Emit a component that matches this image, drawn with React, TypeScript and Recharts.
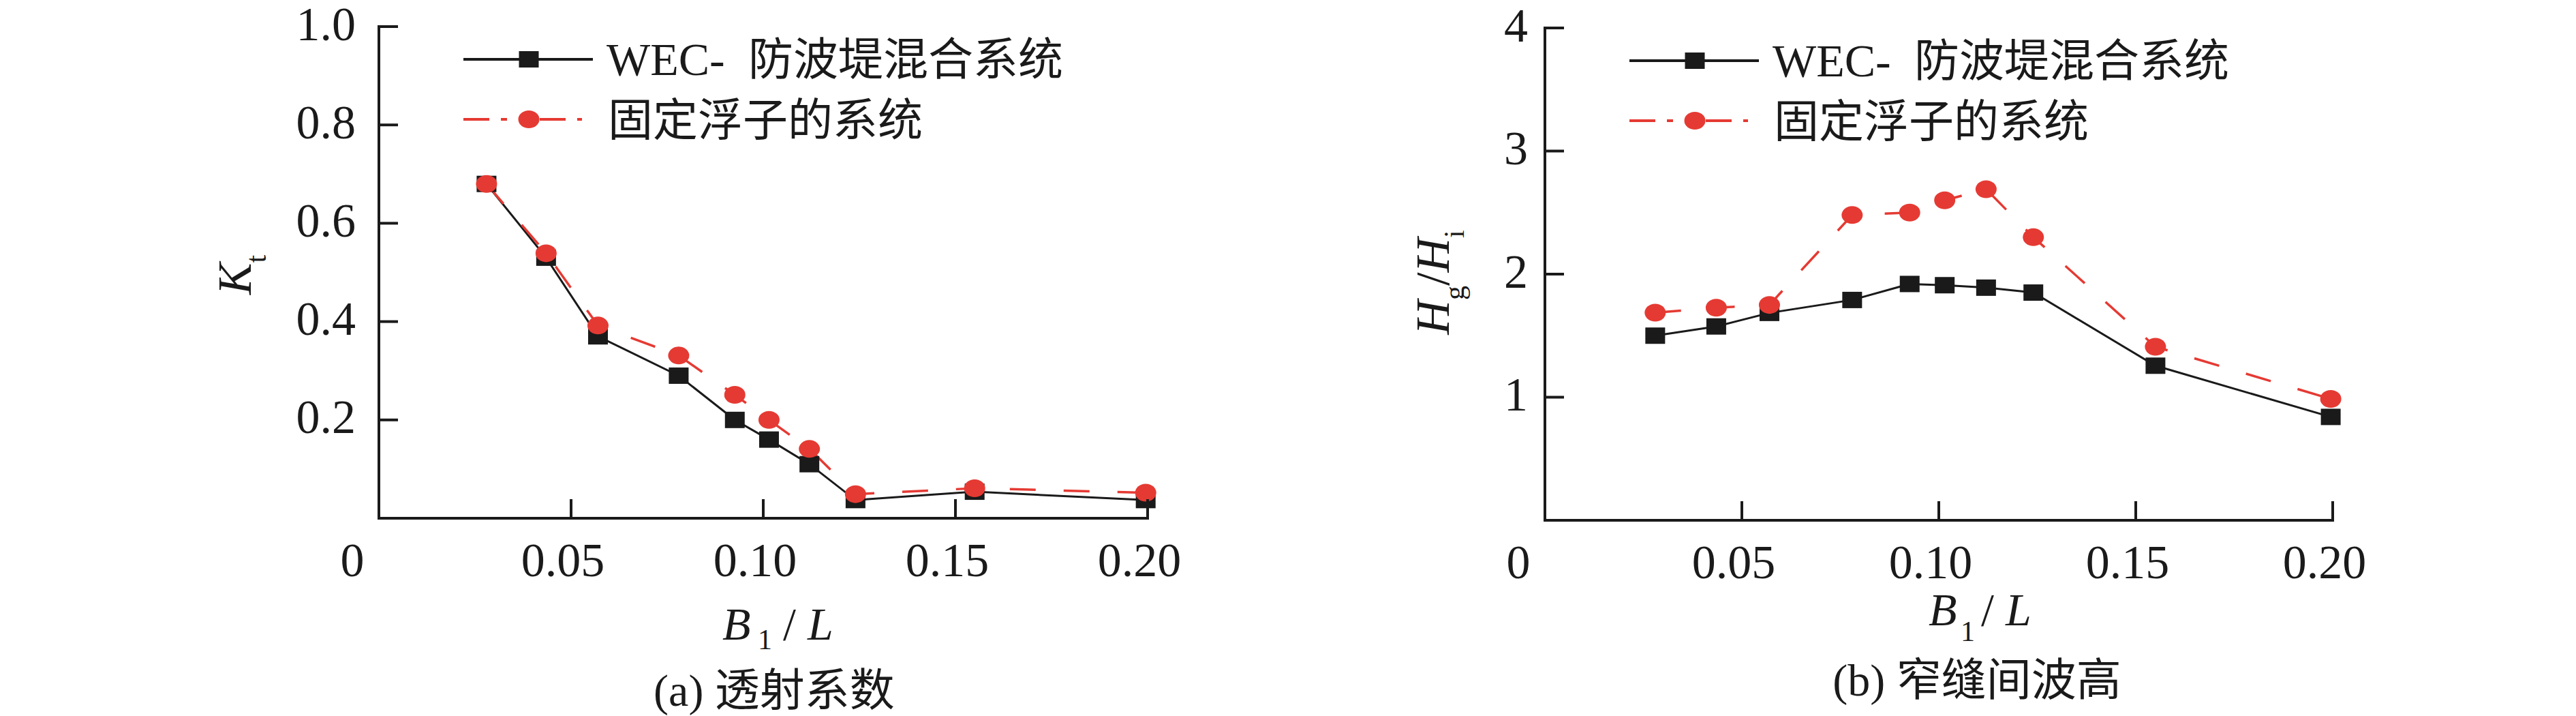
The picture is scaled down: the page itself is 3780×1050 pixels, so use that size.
import { LineChart, Line, XAxis, YAxis, Legend } from 'recharts'

// B1/L sample points shared by both panels
const B1L = [0.028, 0.0435, 0.057, 0.078, 0.0926, 0.1015, 0.112, 0.124, 0.155, 0.1995]

// (a) transmission coefficient Kt
const KT_WEC = [0.68, 0.53, 0.37, 0.29, 0.2, 0.16, 0.11, 0.037, 0.054, 0.037]
const KT_FIXED = [0.68, 0.539, 0.392, 0.331, 0.251, 0.2, 0.141, 0.049, 0.061, 0.052]

// (b) wave height in the gap Hg/Hi
const HG_WEC = [1.5, 1.575, 1.685, 1.79, 1.92, 1.91, 1.89, 1.85, 1.256, 0.84]
const HG_FIXED = [1.687, 1.727, 1.75, 2.48, 2.5, 2.6, 2.69, 2.3, 1.41, 0.986]

const X_TICKS = [0, 0.05, 0.1, 0.15, 0.2]
const KT_TICKS = [0.2, 0.4, 0.6, 0.8, 1.0]
const HG_TICKS = [1, 2, 3, 4]

const SERIES_NAMES = ['WEC- ', '防波堤混合系统', '固定浮子的系统']

const INK = '#1a1a1a'
const RED = '#e53a33'
const FONT = '"Liberation Serif", "Times New Roman", "Noto Sans CJK SC", serif'
const TICK_FS = 70

const build = (a: number[], b: number[]) =>
  B1L.map((x, i) => ({ x, wec: a[i], fixed: b[i] }))

const Square = (p: any) => {
  if (p.cx == null || p.cy == null) return null
  return <rect key={p.key} x={p.cx - 14.5} y={p.cy - 12} width={29} height={24} fill={INK} />
}

const RedDot = (p: any) => {
  if (p.cx == null || p.cy == null) return null
  return <ellipse key={p.key} cx={p.cx} cy={p.cy} rx={15.5} ry={13} fill={RED} />
}

const xFmt = (v: number) => (v === 0 ? '0' : v.toFixed(2))

const XTick = (p: any) => {
  const v = p.payload.value
  const x = p.payload.coordinate ?? p.x
  return (
    <g>
      {v > 0 && <line x1={x} x2={x} y1={p.y} y2={p.y - 28} stroke={INK} strokeWidth={4} />}
      <text
        x={x + (v === 0 ? -39 : -12)}
        y={p.y + 85}
        textAnchor="middle"
        fontFamily={FONT}
        fontSize={TICK_FS}
        fill={INK}
      >
        {xFmt(v)}
      </text>
    </g>
  )
}

const makeYTick = (gap: number, fmt: (v: number) => string) => (p: any) => {
  const y = p.payload.coordinate ?? p.y
  return (
    <g>
      <line x1={p.x} x2={p.x + 28} y1={y} y2={y} stroke={INK} strokeWidth={4} />
      <text
        x={p.x - gap}
        y={y}
        dy="0.28em"
        textAnchor="end"
        fontFamily={FONT}
        fontSize={TICK_FS}
        fill={INK}
      >
        {fmt(p.payload.value)}
      </text>
    </g>
  )
}

const LegendBox = () => (
  <svg width={900} height={220} style={{ overflow: 'visible' }}>
    <line x1={24} x2={214} y1={48} y2={48} stroke={INK} strokeWidth={4} />
    <rect x={120 - 14.5} y={48 - 12} width={29} height={24} fill={INK} />
    <line x1={24} x2={98} y1={136} y2={136} stroke={RED} strokeWidth={4} strokeDasharray="38 17 9 16" />
    <line x1={136} x2={198} y1={136} y2={136} stroke={RED} strokeWidth={4} strokeDasharray="38 17 9 16" />
    <ellipse cx={120} cy={136} rx={15.5} ry={13} fill={RED} />
    <text x={234} y={71} fontFamily={FONT} fontSize={68} fill={INK}>
      {SERIES_NAMES[0]}
      <tspan x={442} fontSize={66}>{SERIES_NAMES[1]}</tspan>
    </text>
    <text x={236} y={160} fontFamily={FONT} fontSize={66} fill={INK}>
      {SERIES_NAMES[2]}
    </text>
  </svg>
)

type PanelProps = {
  left: number
  data: { x: number; wec: number; fixed: number }[]
  plot: { top: number; right: number; bottom: number; left: number }
  yDomain: [number, number]
  yTicks: number[]
  yTick: (p: any) => any
  yTitle: (vb: any) => any
  xTitle: (vb: any) => any
}

function Panel({ left, data, plot, yDomain, yTicks, yTick, yTitle, xTitle }: PanelProps) {
  // axes are 1px wide/high, so the margin is one pixel short of the plot box
  const margin = { top: plot.top, right: plot.right, bottom: plot.bottom - 1, left: plot.left - 1 }
  return (
    <div style={{ position: 'absolute', left, top: 0, width: 1890, height: 1050 }}>
      <LineChart width={1890} height={1050} data={data} margin={margin}>
        <XAxis
          type="number"
          dataKey="x"
          domain={[0, 0.2]}
          ticks={X_TICKS}
          interval={0}
          height={1}
          tickSize={0}
          tickMargin={0}
          tick={XTick}
          tickLine={false}
          axisLine={{ stroke: INK, strokeWidth: 4, strokeLinecap: 'square' }}
          label={{ content: (p: any) => xTitle(p.viewBox) }}
        />
        <YAxis
          type="number"
          domain={yDomain}
          ticks={yTicks}
          interval={0}
          width={1}
          tickSize={0}
          tickMargin={0}
          tick={yTick}
          tickLine={false}
          axisLine={{ stroke: INK, strokeWidth: 4, strokeLinecap: 'square' }}
          label={{ content: (p: any) => yTitle(p.viewBox) }}
        />
        <Legend
          layout="horizontal"
          verticalAlign="middle"
          align="center"
          content={LegendBox}
          wrapperStyle={{ left: plot.left + 100, top: plot.top, width: 900, height: 220 }}
        />
        <Line
          dataKey="wec"
          stroke={INK}
          strokeWidth={3}
          dot={Square}
          activeDot={false}
          isAnimationActive={false}
        />
        <Line
          dataKey="fixed"
          stroke={RED}
          strokeWidth={3.5}
          strokeDasharray="38 41"
          dot={RedDot}
          activeDot={false}
          isAnimationActive={false}
        />
      </LineChart>
    </div>
  )
}

const B1Title = (x: number, y: number, sub: number, gaps: number[]) => (
  <text x={x} y={y} fontFamily={FONT} fontSize={68} fill={INK} fontStyle="italic">
    B
    <tspan x={x + gaps[0]} dy={sub} fontSize={42} fontStyle="normal">1</tspan>
    <tspan x={x + gaps[1]} dy={-sub} fontStyle="normal">/</tspan>
    <tspan x={x + gaps[2]}>L</tspan>
  </text>
)

const Caption = (cx: number, y: number, s: string) => (
  <text x={cx} y={y} textAnchor="middle" fontFamily={FONT} fontSize={66} fill={INK}>
    {s}
  </text>
)

export default function App() {
  return (
    <div style={{ position: 'absolute', left: 0, top: 0, width: 3780, height: 1050, background: '#fff' }}>
      <Panel
        left={0}
        data={build(KT_WEC, KT_FIXED)}
        plot={{ top: 39, right: 206, bottom: 290, left: 556 }}
        yDomain={[0, 1]}
        yTicks={KT_TICKS}
        yTick={makeYTick(34, (v) => v.toFixed(1))}
        yTitle={(vb: any) => {
          const x = 556 - 188
          const y = 403
          return (
            <text
              x={x}
              y={y}
              transform={`rotate(-90 ${x} ${y})`}
              textAnchor="middle"
              fontFamily={FONT}
              fontSize={70}
              fontStyle="italic"
              fill={INK}
            >
              K
              <tspan dy={22} fontSize={42} fontStyle="normal">t</tspan>
            </text>
          )
        }}
        xTitle={(vb: any) => (
          <g>
            {B1Title(556 + 504, 760 + 178, 14, [52, 89, 125])}
            {Caption(556 + 580, 760 + 275, '(a) 透射系数')}
          </g>
        )}
      />
      <Panel
        left={1890}
        data={build(HG_WEC, HG_FIXED)}
        plot={{ top: 41, right: 357, bottom: 287, left: 377 }}
        yDomain={[0, 4]}
        yTicks={HG_TICKS}
        yTick={makeYTick(25, (v) => String(v))}
        yTitle={(vb: any) => {
          const x = 377 - 141
          const y = 414
          return (
            <text
              x={x}
              y={y}
              transform={`rotate(-90 ${x} ${y})`}
              textAnchor="middle"
              fontFamily={FONT}
              fontSize={70}
              fontStyle="italic"
              fill={INK}
            >
              H
              <tspan dy={22} fontSize={42} fontStyle="normal">g</tspan>
              <tspan dy={-22} fontStyle="normal">/</tspan>
              <tspan>H</tspan>
              <tspan dy={22} fontSize={42} fontStyle="normal">i</tspan>
            </text>
          )
        }}
        xTitle={(vb: any) => (
          <g>
            {B1Title(377 + 563, 763 + 154, 23, [47, 77, 113])}
            {Caption(377 + 634, 763 + 257, '(b) 窄缝间波高')}
          </g>
        )}
      />
    </div>
  )
}
